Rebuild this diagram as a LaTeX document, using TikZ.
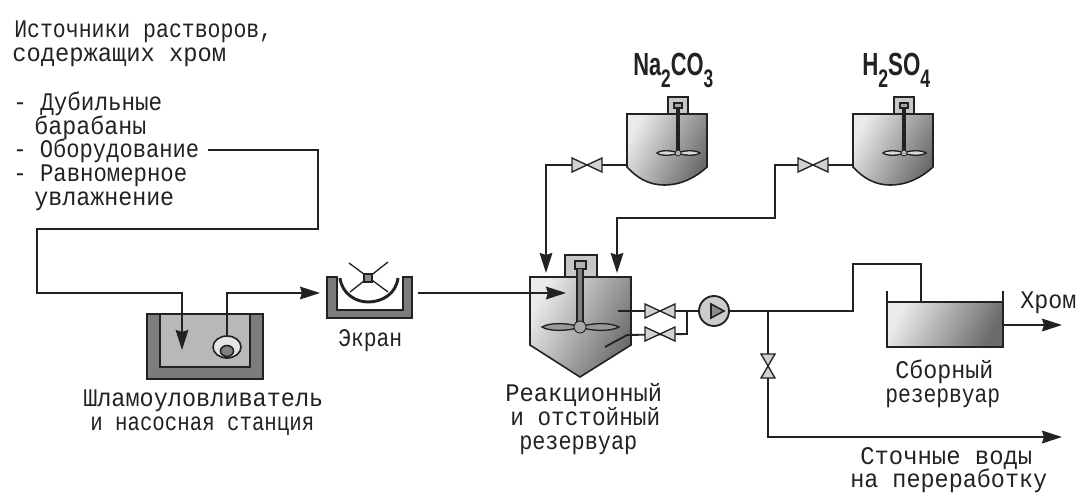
\documentclass[tikz,border=0pt]{standalone}
\usepackage{fontspec}
\usepackage{graphicx}
\usetikzlibrary{arrows.meta,shadings}
\newfontfamily\labfont{Liberation Mono}
\newfontfamily\chemfont{Liberation Sans}
\definecolor{ink}{HTML}{222222}
\definecolor{wallgray}{HTML}{7C7C7C}
\definecolor{sumpgray}{HTML}{B8B8B8}
\newcommand{\tw}[2]{\resizebox{\dimexpr #1pt*3/4\relax}{\height}{\labfont\fontsize{19pt}{19pt}\selectfont #2}}
\newcommand{\chemsub}[1]{\raisebox{-9pt}{\fontsize{19pt}{19pt}\selectfont #1}}
\newcommand{\chemtxt}[2]{\resizebox{\dimexpr #1pt*3/4\relax}{\height}{\chemfont\bfseries\fontsize{24pt}{24pt}\selectfont #2}}
\tikzset{
 lab/.style={anchor=base west,inner sep=0pt,text=ink},
 pipe/.style={draw=ink,line width=1.4pt},
 flow/.style={pipe,-{Stealth[length=15pt,width=9.5pt,inset=1.5pt]}},
 tankbody/.style={draw=ink,line width=1.2pt,shading=axis,left color=white!92!black,right color=black!58,shading angle=62},
 valvepart/.style={draw=ink,line width=1pt,fill=black!18},
}
\newcommand{\hvalve}[2]{%
 \filldraw[valvepart] (#1-15,#2-7) -- (#1,#2) -- (#1-15,#2+7) -- cycle;
 \filldraw[valvepart] (#1+15,#2-7) -- (#1,#2) -- (#1+15,#2+7) -- cycle;}
\newcommand{\vvalve}[2]{%
 \filldraw[valvepart] (#1-7,#2-12) -- (#1,#2) -- (#1+7,#2-12) -- cycle;
 \filldraw[valvepart] (#1-7,#2+12) -- (#1,#2) -- (#1+7,#2+12) -- cycle;}
\newcommand{\mixtank}[1]{%
 \begin{scope}[shift={(#1,0)}]
  \filldraw[draw=ink,line width=1pt,fill=black!22] (1,114) -- (1,97) -- (21,97) -- (21,114);
  \path[tankbody] (-40,114) -- (40,114) -- (40,167) .. controls (28,178) and (14,185) .. (-3,185) .. controls (-18,185) and (-30,178) .. (-40,167) -- cycle;
  \filldraw[draw=ink,line width=.8pt,fill=black!35] (7,103) rectangle (15,108);
  \draw[ink,line width=3pt] (11,108) -- (11,153);
  \filldraw[draw=ink,line width=1pt,fill=black!15] (-10,153) .. controls (-7,150) and (5,150) .. (11,153) .. controls (17,150) and (29,150) .. (33,153) .. controls (29,156) and (17,156) .. (11,153) .. controls (5,156) and (-7,156) .. (-10,153) -- cycle;
  \filldraw[draw=ink,line width=.6pt,fill=black!30] (11,153) circle (3);
 \end{scope}}
\begin{document}
\begin{tikzpicture}[x=0.75pt,y=-0.75pt]
\useasboundingbox (0,0) rectangle (1080,493);
% named routing points
\coordinate (srcS) at (208,150);
\coordinate (srcA) at (318,150);
\coordinate (srcB) at (318,229);
\coordinate (srcC) at (37,229);
\coordinate (srcD) at (37,293);
\coordinate (srcE) at (182,293);
\coordinate (sumpIn) at (182,350);
\coordinate (sumpOut) at (227,337);
\coordinate (sumpA) at (227,293);
\coordinate (screenIn) at (320,293);
\coordinate (screenOut) at (418,293);
\coordinate (reacIn) at (566,293);
\coordinate (naOut) at (627,165);
\coordinate (naA) at (546,165);
\coordinate (naIn) at (546,273);
\coordinate (hOut) at (853,165);
\coordinate (hA) at (775,165);
\coordinate (hB) at (775,218);
\coordinate (hC) at (617,218);
\coordinate (hIn) at (617,273);
\coordinate (upS) at (618,311);
\coordinate (pump) at (714,311);
\coordinate (loS) at (605,347);
\coordinate (loA) at (627,335);
\coordinate (loB) at (687,334);
\coordinate (loC) at (687,311);
\coordinate (tee) at (768,311);
\coordinate (mA) at (853,311);
\coordinate (mB) at (853,264);
\coordinate (mC) at (921,264);
\coordinate (mD) at (921,302);
\coordinate (rcvOut) at (1003,325);
\coordinate (rcvEnd) at (1062,325);
\coordinate (drA) at (768,437);
\coordinate (drEnd) at (1062,437);

% sump
\fill[wallgray] (147,314) rectangle (263,379);
\filldraw[draw=ink,line width=1.2pt,fill=sumpgray] (160,314) -- (160,367) -- (250,367) -- (250,314);
\draw[ink,line width=1.2pt] (147,314) -- (263,314) -- (263,379) -- (147,379) -- cycle;
\filldraw[draw=ink,line width=1.2pt,fill=white!90!black] (227,347) ellipse (14 and 11);
\filldraw[draw=ink,line width=1.2pt,fill=black!50] (227,351) ellipse (6.5 and 5.5);

% screen
\fill[wallgray] (327,277) rectangle (412,318);
\fill[white] (337,277) rectangle (403,310);
\draw[ink,line width=1.1pt] (327,277) -- (327,318) -- (412,318) -- (412,277) -- (403,277) -- (403,310) -- (337,310) -- (337,277) -- cycle;
\draw[ink,line width=1pt] (349,263) -- (388,292) (388,262) -- (350,292);
\draw[ink,line width=2.2pt] (340,278) .. controls (342,294) and (356,302) .. (368,302) .. controls (382,302) and (396,294) .. (398,278);
\filldraw[draw=ink,line width=.8pt,fill=black!45] (364,274) rectangle (372,282);

% reactor
\filldraw[draw=ink,line width=1.2pt,fill=black!22] (565,277) -- (565,255) -- (597,255) -- (597,277);
\path[tankbody] (530,277) -- (631,277) -- (631,345) -- (580,377) -- (530,345) -- cycle;
\filldraw[draw=ink,line width=.8pt,fill=black!30] (575,261) rectangle (586,269);
\draw[ink,line width=6pt] (580,269) -- (580,327);
\draw[black!50,line width=3pt] (580,269) -- (580,327);
\filldraw[draw=ink,line width=1pt,fill=black!40] (542,327) .. controls (550,322) and (570,323) .. (580,327) .. controls (590,323) and (610,322) .. (619,327) .. controls (610,332) and (590,331) .. (580,327) .. controls (570,331) and (550,332) .. (542,327) -- cycle;
\filldraw[draw=ink,line width=.7pt,fill=black!35] (580,327) circle (6);

% receiver
\path[tankbody] (887,302) rectangle (1003,347);
\draw[ink,line width=1.2pt] (887,291) -- (887,347) -- (1003,347) -- (1003,291);
\draw[ink,line width=1.6pt] (887,302) -- (1003,302);

% agitated tanks
\mixtank{667}
\mixtank{893}

% connectors
\draw[flow] (srcS) -- (srcA) -- (srcB) -- (srcC) -- (srcD) -- (srcE) -- (sumpIn);
\draw[flow] (sumpOut) -- (sumpA) -- (screenIn);
\draw[flow] (screenOut) -- (reacIn);
\draw[flow] (naOut) -- (naA) -- (naIn);
\draw[flow] (hOut) -- (hA) -- (hB) -- (hC) -- (hIn);
\draw[pipe] (upS) -- (pump);
\draw[pipe] (loS) -- (loA) -- (loB) -- (loC);
\draw[pipe] (pump) -- (mA) -- (mB) -- (mC) -- (mD);
\draw[flow] (rcvOut) -- (rcvEnd);
\draw[flow,line width=1.7pt] (tee) -- (drA) -- (drEnd);

% valves
\hvalve{587}{165}
\hvalve{813}{165}
\hvalve{660}{311}
\hvalve{660}{334}
\vvalve{768}{366}

% pump
\filldraw[draw=ink,line width=1.4pt,fill=black!20] (pump) circle (15);
\filldraw[draw=ink,line width=1.2pt,fill=black!45] (711,304) -- (724,311) -- (711,318) -- cycle;

% labels
\node[lab] (t1) at (14,37) {\tw{258}{Источники растворов,}};
\node[lab] (t2) at (12,61) {\tw{214}{содержащих хром}};
\node[lab] (t3) at (13,110) {\tw{149}{- Дубильные}};
\node[lab] (t4) at (34,134) {\tw{112}{барабаны}};
\node[lab] (t5) at (13,157) {\tw{186}{- Оборудование}};
\node[lab] (t6) at (13,181) {\tw{174}{- Равномерное}};
\node[lab] (t7) at (34,205) {\tw{140}{увлажнение}};
\node[lab] (t8) at (83,406) {\tw{240}{Шламоуловливатель}};
\node[lab] (t9) at (90,430) {\tw{224}{и насосная станция}};
\node[lab] (t10) at (338,346) {\tw{64}{Экран}};
\node[lab] (t11) at (505,401) {\tw{157}{Реакционный}};
\node[lab] (t12) at (510,425) {\tw{150}{и отстойный}};
\node[lab] (t13) at (519,449) {\tw{118}{резервуар}};
\node[lab] (t14) at (895,378) {\tw{98}{Сборный}};
\node[lab] (t15) at (885,402) {\tw{115}{резервуар}};
\node[lab] (t16) at (1020,308) {\tw{56}{Хром}};
\node[lab] (t17) at (860,464) {\tw{172}{Сточные воды}};
\node[lab] (t18) at (850,487) {\tw{197}{на переработку}};
\node[lab] (c1) at (633,75) {\chemtxt{80}{Na\chemsub{2}CO\chemsub{3}}};
\node[lab] (c2) at (862,75) {\chemtxt{68}{H\chemsub{2}SO\chemsub{4}}};
\end{tikzpicture}
\end{document}
